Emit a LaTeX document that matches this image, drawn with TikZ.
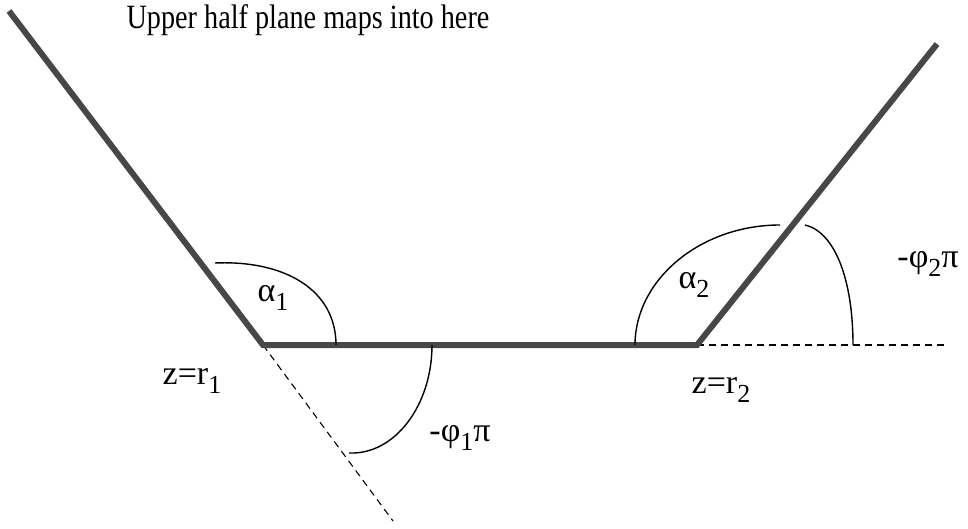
\documentclass[tikz,border=0pt]{standalone}
\usepackage{fontspec}
\setmainfont{Liberation Serif}
\newcommand\lsub[1]{\raisebox{-0.28em}{\fontsize{26}{28}\selectfont #1}}
\begin{document}
\begin{tikzpicture}[x=1pt,y=-1pt,
  thickedge/.style={draw=black!72, line width=6pt, line cap=butt},
  anglearc/.style={draw=black, line width=1.4pt},
  extline/.style={draw=black, line width=1.1pt, dash pattern=on 7pt off 5pt},
  lbl/.style={inner sep=0pt, font=\fontsize{34}{36}\selectfont},
  ttl/.style={inner sep=0pt, font=\fontsize{34}{36}\selectfont}]
\useasboundingbox (0,0) rectangle (968,529);
% vertices and ends
\coordinate (r1) at (263,345);
\coordinate (r2) at (697,345);
\coordinate (lt) at (9,11);
\coordinate (rt) at (937,44);
\coordinate (dl) at (393,521);
\coordinate (dr) at (945,345);
% extensions
\draw[extline] (r1) -- (dl);
\draw[extline] (r2) -- (dr);
% polygon edges
\draw[thickedge] (lt) -- (r1) -- (r2) -- (rt);
% angle arcs
\coordinate (a1s) at (215,263);
\coordinate (a1e) at (336,345);
\draw[anglearc] (a1s) .. controls (285,260) and (336,290) .. (a1e);
\coordinate (p1s) at (432,345);
\coordinate (p1e) at (349,453);
\draw[anglearc] (p1s) .. controls (432,405) and (395,455) .. (p1e);
\coordinate (a2s) at (635,345);
\coordinate (a2e) at (780,225);
\draw[anglearc] (a2s) .. controls (635,280) and (700,225) .. (a2e);
\coordinate (p2s) at (805,225);
\coordinate (p2e) at (853,345);
\draw[anglearc] (p2s) .. controls (835,232) and (853,280) .. (p2e);
% labels
\node[ttl] (title) at (308,20) {\scalebox{0.83}[1]{Upper half plane maps into here}};
\node[lbl] (alpha1) at (273,298) {α\lsub{1}};
\node[lbl] (alpha2) at (694,285) {α\lsub{2}};
\node[lbl] (z1) at (192,381) {z=r\lsub{1}};
\node[lbl] (z2) at (721,390) {z=r\lsub{2}};
\node[lbl] (phi1) at (460,438) {-φ\lsub{1}π};
\node[lbl] (phi2) at (928,264) {-φ\lsub{2}π};
\end{tikzpicture}
\end{document}
